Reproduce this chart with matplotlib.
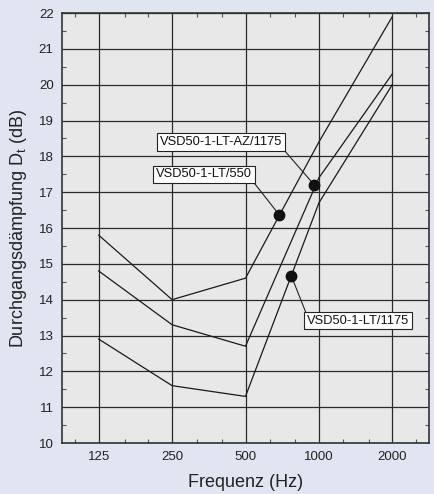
import numpy as np
import matplotlib
matplotlib.use('Agg')
import matplotlib.pyplot as plt
from matplotlib.ticker import FixedLocator, NullFormatter, MultipleLocator

plt.rcParams['font.family'] = ['Liberation Sans', 'DejaVu Sans']
plt.rcParams['mathtext.fontset'] = 'custom'
plt.rcParams['mathtext.rm'] = 'Liberation Sans'

freq = [125, 250, 500, 1000, 2000]
lt_550 = [15.8, 14.0, 14.6, 18.4, 21.9]
lt_az_1175 = [14.8, 13.3, 12.7, 17.4, 20.3]
lt_1175 = [12.9, 11.6, 11.3, 16.7, 20.0]

third_oct = [100, 160, 200, 315, 400, 630, 800, 1250, 1600, 2500]

labels = ['VSD50-1-LT/550', 'VSD50-1-LT-AZ/1175', 'VSD50-1-LT/1175']
mark_f = [689, 958, 772]
mark_v = [16.36, 17.2, 14.65]
label_f = [338, 397, 1445]
label_v = [17.5, 18.4, 13.41]
label_rel = [(1.0, 0.0), (1.0, 0.0), (0.0, 1.0)]

bg = '#e1e5f2'
fig = plt.figure(figsize=(4.35, 4.94), dpi=100, facecolor=bg)
ax = fig.add_axes([62/435, 51/494, 367/435, 430/494])
ax.set_facecolor('#e8e8e8')

ax.set_xscale('log')
ax.set_xlim(125/np.sqrt(2), 2000*np.sqrt(2))
ax.set_ylim(10, 22)

ax.xaxis.set_major_locator(FixedLocator(freq))
ax.set_xticklabels([str(f) for f in freq])
ax.xaxis.set_minor_locator(FixedLocator(third_oct))
ax.xaxis.set_minor_formatter(NullFormatter())
ax.yaxis.set_major_locator(MultipleLocator(1))
ax.yaxis.set_minor_locator(MultipleLocator(0.5))

ax.grid(True, which='major', color='#2a2a2a', linewidth=0.9)
ax.set_axisbelow(True)
ax.tick_params(which='major', length=0, labelsize=9.5, pad=6, colors='#222222')
ax.tick_params(which='minor', direction='in', length=3, width=0.8,
               top=True, right=True, color='#555555')
for s in ax.spines.values():
    s.set_color('#333333')
    s.set_linewidth(1.2)

for ys in (lt_550, lt_az_1175, lt_1175):
    ax.plot(freq, ys, color='#1a1a1a', linewidth=0.9)

for lab, mf, mv, lf, lv, rel in zip(labels, mark_f, mark_v, label_f, label_v, label_rel):
    ax.annotate(lab, xy=(mf, mv), xytext=(lf, lv), ha='center', va='center',
                fontsize=9.3, color='#111111',
                bbox=dict(boxstyle='square,pad=0.2', fc='white', ec='#222222', lw=0.8),
                arrowprops=dict(arrowstyle='-', color='#222222', lw=0.8,
                                shrinkA=0, shrinkB=0, relpos=rel))
ax.plot(mark_f, mark_v, 'o', color='#111111', markersize=7.5, zorder=5)

ax.set_xlabel('Frequenz (Hz)', fontsize=13, labelpad=8, color='#222222')
ax.set_ylabel(r'Durchgangsdämpfung D$_\mathregular{t}$ (dB)', fontsize=13,
              labelpad=7, color='#222222')

fig.savefig('out.png', dpi=100, facecolor=bg)
